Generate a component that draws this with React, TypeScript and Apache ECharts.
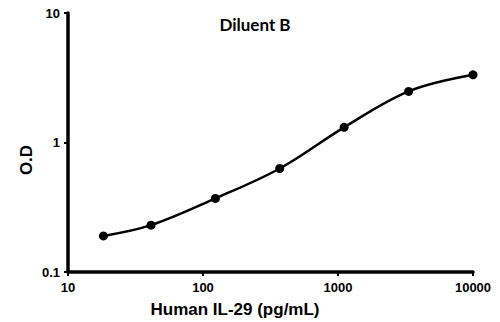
import React, { useEffect, useRef } from "react";
import * as echarts from "echarts";

// Standard curve, Human IL-29 in Diluent B
const concentrations = [18.3, 41.2, 123.5, 370, 1111, 3333, 10000];
const odValues = [0.19, 0.23, 0.37, 0.63, 1.31, 2.48, 3.33];

const chartTitle = "Diluent B";
const xAxisTitle = "Human IL-29 (pg/mL)";
const yAxisTitle = "O.D";

export default function App() {
  const ref = useRef<HTMLDivElement>(null);

  useEffect(() => {
    document.body.style.margin = "0";
    if (!ref.current) return;
    const chart = echarts.init(ref.current, null, { renderer: "svg" });
    const axisFont = "'Liberation Sans', Arial, sans-serif";
    const plainNumber = (v: number) => String(v);
    chart.setOption({
      animation: false,
      backgroundColor: "#ffffff",
      grid: { left: 68, right: 27, top: 13, bottom: 50 },
      title: {
        text: chartTitle,
        left: 250,
        top: 11,
        textAlign: "center",
        textStyle: {
          fontFamily: "Lato, 'Open Sans', sans-serif",
          fontWeight: "bold",
          fontSize: 17,
          color: "#000",
        },
      },
      xAxis: {
        type: "log",
        logBase: 10,
        min: 10,
        max: 10000,
        splitLine: { show: false },
        minorTick: { show: false },
        axisLine: { lineStyle: { color: "#000", width: 3.5 } },
        axisTick: { show: true, length: 4, lineStyle: { color: "#000", width: 2 } },
        axisLabel: {
          margin: 9,
          formatter: plainNumber,
          fontFamily: axisFont,
          fontWeight: "bold",
          fontSize: 13,
          color: "#000",
        },
      },
      yAxis: {
        type: "log",
        logBase: 10,
        min: 0.1,
        max: 10,
        splitLine: { show: false },
        minorTick: { show: false },
        axisLine: { show: true, lineStyle: { color: "#000", width: 3.5 } },
        axisTick: { show: true, length: 4, lineStyle: { color: "#000", width: 2 } },
        axisLabel: {
          margin: 8,
          formatter: plainNumber,
          fontFamily: axisFont,
          fontWeight: "bold",
          fontSize: 13,
          color: "#000",
        },
      },
      graphic: [
        {
          type: "text",
          x: 235,
          y: 309,
          style: {
            text: xAxisTitle,
            fontFamily: axisFont,
            fontWeight: "bold",
            fontSize: 17,
            fill: "#000",
            align: "center",
            verticalAlign: "middle",
          },
        },
        {
          type: "text",
          x: 26,
          y: 160,
          rotation: Math.PI / 2,
          style: {
            text: yAxisTitle,
            fontFamily: axisFont,
            fontWeight: "bold",
            fontSize: 17,
            fill: "#000",
            align: "center",
            verticalAlign: "middle",
          },
        },
      ],
      series: [
        {
          type: "line",
          data: concentrations.map((c, i) => [c, odValues[i]]),
          smooth: 0.35,
          symbol: "circle",
          symbolSize: 9,
          itemStyle: { color: "#000" },
          lineStyle: { color: "#000", width: 2.5 },
        },
      ],
    });
    return () => chart.dispose();
  }, []);

  return <div ref={ref} style={{ width: 500, height: 322 }} />;
}
